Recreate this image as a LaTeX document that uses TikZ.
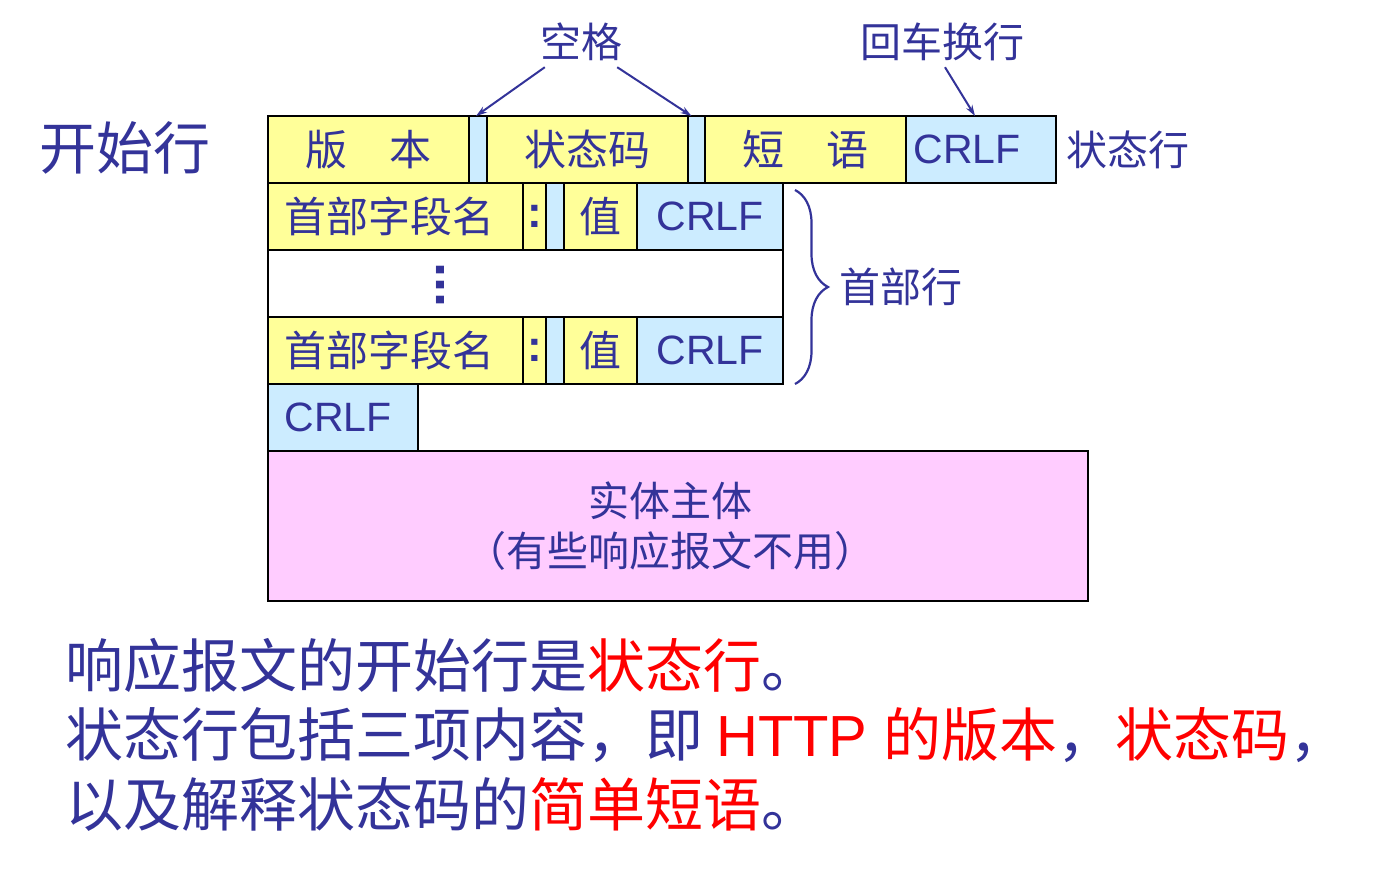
\documentclass[tikz,border=0pt]{standalone}
\usepackage{fontspec}
\setmainfont{Liberation Sans}
\newfontfamily\cjk{Noto Sans CJK SC}
\usetikzlibrary{arrows.meta,positioning,decorations.pathreplacing}
\definecolor{txtblue}{HTML}{333399}
\definecolor{fieldyellow}{HTML}{FFFF99}
\definecolor{gapblue}{HTML}{CCECFF}
\definecolor{bodypink}{HTML}{FFCCFF}
\tikzset{
  field/.style={
    draw=black,
    line width=2pt,
    fill=fieldyellow,
    inner sep=0pt,
    outer sep=0pt,
    minimum height=67pt,
    text=txtblue,
    font=\fontsize{42}{42}\selectfont\cjk
  },
  gapfield/.style={
    field,
    fill=gapblue,
    line width=1.5pt
  },
  crlffield/.style={
    gapfield,
    font=\fontsize{41}{41}\selectfont\rmfamily
  },
  colonfield/.style={
    field,
    font=\fontsize{44}{44}\selectfont\rmfamily\bfseries
  },
  bodyfield/.style={
    field,
    fill=bodypink,
    align=center,
    font=\fontsize{41}{50}\selectfont\cjk
  },
  lbl/.style={
    text=txtblue,
    inner sep=0pt,
    font=\fontsize{41}{41}\selectfont\cjk
  },
  biglbl/.style={
    lbl,
    font=\fontsize{57}{57}\selectfont\cjk
  },
  notetext/.style={
    lbl,
    anchor=west,
    font=\fontsize{58}{58}\selectfont\cjk
  },
  pointer/.style={
    -{Stealth[length=11pt,width=7pt]},
    line width=2pt,
    draw=txtblue
  },
  hdrbrace/.style={
    decorate,
    decoration={brace,amplitude=33pt},
    line width=2.2pt,
    draw=txtblue
  }
}

\begin{document}
\begin{tikzpicture}[x=1pt, y=-1pt]
    \useasboundingbox (0,0) rectangle (1394,873);

    % status line
    \node[field, anchor=north west, minimum width=201pt] (ver) at (268,116) {版\hspace{1em}本};
    \node[gapfield, minimum width=18pt, right=0pt of ver] (sp1) {};
    \node[field, minimum width=201pt, right=0pt of sp1] (code) {状态码};
    \node[gapfield, minimum width=17pt, right=0pt of code] (sp2) {};
    \node[field, minimum width=201pt, right=0pt of sp2] (phrase) {短\hspace{1em}语};
    \node[crlffield, minimum width=150pt, right=0pt of phrase] (crlf1) {CRLF\kern28pt};
    \node[field, fill=none, minimum width=201pt, right=0pt of sp2] {};

    % header lines
    \node[field, anchor=north west, minimum width=255pt] (hname1) at (ver.south west) {首部字段名\kern12pt};
    \node[colonfield, minimum width=23pt, right=0pt of hname1] (colon1) {:};
    \node[gapfield, minimum width=18pt, right=0pt of colon1] (hsp1) {};
    \node[field, minimum width=73pt, right=0pt of hsp1] (hval1) {值};
    \node[crlffield, minimum width=146pt, right=0pt of hval1] (hcrlf1) {CRLF};

    \node[field, fill=white, anchor=north west, minimum width=515pt] (dotrow) at (hname1.south west) {};
    \node[lbl, rotate=90, font=\fontsize{54}{54}\selectfont\bfseries] (vdots) at (440,285) {...};

    \node[field, anchor=north west, minimum width=255pt] (hname2) at (dotrow.south west) {首部字段名\kern12pt};
    \node[colonfield, minimum width=23pt, right=0pt of hname2] (colon2) {:};
    \node[gapfield, minimum width=18pt, right=0pt of colon2] (hsp2) {};
    \node[field, minimum width=73pt, right=0pt of hsp2] (hval2) {值};
    \node[crlffield, minimum width=146pt, right=0pt of hval2] (hcrlf2) {CRLF};

    % empty line and body
    \node[crlffield, anchor=north west, minimum width=150pt] (crlf2) at (hname2.south west) {CRLF\kern10pt};
    \node[bodyfield, anchor=north west, minimum width=820pt, minimum height=150pt] (body) at (crlf2.south west) {实体主体\kern16pt\\（有些响应报文不用）\kern16pt};

    % labels
    \node[biglbl] (startlbl) at (125,148) {开始行};
    \node[lbl, anchor=west] (statuslbl) at ([xshift=10pt]crlf1.east) {状态行};
    \node[lbl] (spacelbl) at (581,42) {空格};
    \node[lbl] (crlflbl) at (942,42) {回车换行};

    \draw[pointer] ([xshift=5pt,yshift=-6pt]spacelbl.south west) -- ([xshift=-2pt]sp1.north);
    \draw[pointer] ([xshift=-5pt,yshift=-6pt]spacelbl.south east) -- ([xshift=-5pt]sp2.north);
    \draw[pointer] ([xshift=3pt,yshift=-6pt]crlflbl.south) -- ([xshift=-6pt]crlf1.north);

    \draw[hdrbrace] ([xshift=12pt,yshift=-7pt]hcrlf1.north east) -- ([xshift=12pt]hcrlf2.south east)
        node[lbl, midway, anchor=west, xshift=43pt] (hdrlbl) {首部行};

    % explanation
    \node[notetext] (line1) at (65,665) {响应报文的开始行是{\color{red}状态行}。};
    \node[notetext] (line2) at (65,735) {状态行包括三项内容，即 {\color{red}\rmfamily HTTP {\cjk 的版本}}，{\color{red}状态码}，};
    \node[notetext] (line3) at (65,805) {以及解释状态码的{\color{red}简单短语}。};
\end{tikzpicture}
\end{document}
